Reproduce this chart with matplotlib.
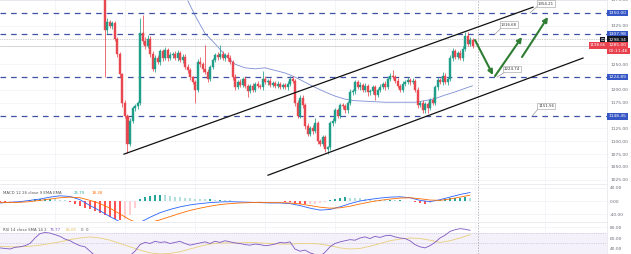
import numpy as np
import matplotlib
matplotlib.use("Agg")
import matplotlib.pyplot as plt

# ---------------- data ----------------
first_open = 1385
closes = [1316, 1333, 1325, 1330, 1300, 1270, 1230, 1175, 1150, 1095,
          1140, 1165, 1168, 1175, 1310, 1295, 1285, 1300, 1270, 1240,
          1262, 1255, 1275, 1262, 1278, 1262, 1268, 1270, 1262, 1272,
          1258, 1265, 1245, 1238, 1225, 1215, 1200, 1255, 1250, 1240,
          1235, 1222, 1245, 1258, 1268, 1265, 1270, 1262, 1268, 1262,
          1255, 1225, 1205, 1215, 1210, 1222, 1208, 1198, 1208, 1200,
          1212, 1208, 1205, 1222, 1215, 1218, 1210, 1214, 1208, 1212,
          1206, 1210, 1205, 1212, 1222, 1218, 1175, 1150, 1185, 1170,
          1130, 1115, 1125, 1120, 1135, 1100, 1095, 1108, 1085, 1088,
          1135, 1140, 1160, 1150, 1170, 1168, 1160, 1175, 1195, 1198,
          1215, 1205, 1210, 1200, 1208, 1195, 1197, 1205, 1190, 1200,
          1205, 1212, 1205, 1222, 1228, 1225, 1218, 1208, 1200, 1212,
          1215, 1220, 1215, 1218, 1200, 1170, 1175, 1160, 1172, 1165,
          1180, 1175, 1205, 1220, 1215, 1228, 1215, 1222, 1262, 1275,
          1265, 1272, 1262, 1280, 1305, 1290, 1298, 1285]
upper_wick = [5, 6, 4, 5, 4, 3, 4, 3, 5, 4, 6, 4, 5, 3, 30, 35, 8, 6, 5, 6,
              5, 6, 4, 5, 6, 4, 5, 4, 6, 5, 4, 5, 4, 5, 4, 3, 5, 5, 10, 4,
              48, 5, 4, 5, 4, 6, 18, 5, 4, 5, 6, 4, 5, 4, 6, 4, 5, 3, 4, 5,
              4, 5, 4, 14, 5, 4, 5, 3, 4, 5, 3, 4, 4, 5, 5, 6, 4, 5, 6, 5,
              4, 5, 4, 6, 10, 4, 5, 4, 5, 3, 4, 6, 5, 4, 5, 4, 5, 4, 6, 4,
              5, 4, 5, 4, 6, 4, 5, 4, 5, 4, 6, 4, 5, 4, 5, 10, 4, 5, 4, 5,
              4, 6, 4, 5, 4, 5, 4, 5, 4, 5, 4, 6, 4, 5, 4, 6, 5, 4, 5, 6,
              5, 4, 6, 5, 7, 8, 5, 4]
lower_wick = [91, 8, 5, 6, 4, 5, 4, 8, 5, 17, 5, 4, 6, 5, 4, 5, 6, 4, 5, 4,
              5, 4, 6, 5, 4, 6, 4, 5, 4, 6, 4, 5, 4, 6, 5, 4, 26, 4, 5, 6,
              5, 6, 4, 5, 4, 6, 5, 4, 5, 6, 4, 5, 6, 4, 5, 4, 5, 12, 4, 5,
              4, 5, 4, 5, 4, 5, 4, 5, 4, 5, 4, 5, 4, 5, 4, 5, 6, 5, 4, 5,
              6, 5, 4, 5, 4, 6, 5, 4, 5, 10, 4, 5, 4, 5, 4, 6, 5, 4, 5, 4,
              5, 4, 5, 4, 5, 6, 5, 4, 10, 4, 5, 4, 5, 4, 5, 4, 5, 4, 5, 4,
              5, 4, 5, 4, 5, 6, 4, 5, 4, 10, 4, 5, 4, 5, 4, 5, 4, 5, 4, 5,
              4, 5, 4, 5, 4, 5, 4, 4]

ma_idx = [30, 33, 36, 40, 44, 48, 52, 56, 60, 64, 68, 72, 76, 80, 84, 88,
          92, 96, 100, 104, 108, 112, 116, 120, 124, 128, 132, 136, 140, 144, 147]
ma_val = [1385, 1375, 1345, 1310, 1290, 1268, 1250, 1243, 1241, 1243, 1238,
          1233, 1225, 1215, 1205, 1196, 1188, 1182, 1179, 1178, 1177, 1176,
          1176, 1176, 1176, 1179, 1183, 1190, 1196, 1203, 1208]

hlevels = [1350.00, 1307.98, 1224.89, 1148.45]
hlevel_labels = ["1350.00", "1307.98", "1224.89", "1148.45"]

upper_chan_x = [7.6, 171.2]
upper_chan_y = [1075, 1361]
lower_chan_x = [65.2, 191.2]
lower_chan_y = [1034, 1262]

arrows = [((148.0, 1297), (155.2, 1229)),
          ((156.0, 1227), (166.8, 1303)),
          ((166.8, 1264), (177.2, 1342))]

callout_text = ["1354.21", "1316.68", "1224.74", "1151.56"]
callout_box = [(176.4, 1367.9), (161.6, 1327.0), (162.8, 1240.5), (176.4, 1168.5)]
callout_from = [(172.8, 1362.0), (158.8, 1322.0), (160.0, 1234.7), (173.2, 1162.7)]
callout_to = [(170.0, 1350.0), (156.0, 1308.6), (156.8, 1225.0), (170.8, 1149.0)]

# indicators sampled every 4 candles (MACD lines) / 2 candles (hist, RSI)
macd_line = [-6, -4, -2, 2, 6, 12, 16, 14, 4, -14, -30, -48, -64, -76, -66, -50,
             -36, -26, -18, -12, -8, -5, -3, -2, -3, -4, -5, -6, -6, -8, -14, -22,
             -28, -26, -18, -8, 0, 5, 9, 12, 13, 10, 2, -2, 4, 12, 20, 26]
signal_line = [-4, -5, -4, -2, 2, 6, 10, 12, 10, 2, -8, -22, -40, -58, -70, -66,
               -58, -48, -38, -29, -22, -16, -11, -8, -6, -5, -4, -5, -5, -6, -9, -14,
               -19, -22, -21, -16, -9, -3, 2, 6, 9, 10, 7, 3, 2, 6, 12, 18]
macd_hist = [-4, -4, -3, -2, -1, 1, 3, 5, 6, 7, 7, 6, 4, 2, -3, -8, -14, -20,
             -26, -32, -38, -44, -50, -54, -57, -55, -42, -20, 6, 12, 16, 18, 19,
             18, 16, 13, 11, 9, 8, 7, 6, 5, 5, 4, 4, 3, 2, 1, 1, 0.5, -0.5, 0.5,
             -0.5, -1, -1, -1, -1, -2, -4, -7, -9, -10, -9, -8, -6, -3, 2, 7, 10,
             11, 10, 9, 8, 6, 5, 4, 4, 3, 3, 2, 2, 1, -1, -4, -7, -8, -5, -1, 4,
             7, 9, 10, 10, 11, 9]
rsi = [42, 41, 40, 43, 44, 46, 50, 60, 68, 70, 69, 66, 63, 58, 55, 50, 46, 44,
       36, 28, 22, 24, 20, 18, 22, 19, 28, 36, 48, 52, 50, 54, 52, 53, 50, 52,
       54, 50, 47, 49, 51, 53, 50, 54, 52, 55, 53, 51, 50, 48, 47, 49, 48, 46,
       47, 49, 52, 51, 53, 40, 36, 38, 33, 30, 27, 34, 44, 50, 53, 55, 57, 56,
       60, 62, 59, 63, 61, 64, 65, 62, 60, 59, 55, 48, 44, 42, 46, 52, 60, 65,
       72, 75, 77, 76, 74]
rsi_ma = [45, 44, 44, 45, 47, 50, 53, 57, 60, 62, 60, 56, 50, 44, 38, 33, 31,
          32, 35, 40, 45, 49, 51, 51, 51, 52, 51, 50, 49, 49, 50, 50, 49, 46,
          42, 40, 41, 45, 50, 55, 58, 60, 59, 56, 52, 55, 60, 66]

price_ticks = [1375, 1325, 1250, 1200, 1175, 1125, 1100, 1075, 1050, 1025]
macd_ticks = [40, 0, -40]
rsi_ticks = [80, 60, 40]

# ---------------- figure ----------------
W, H = 631, 254
fig = plt.figure(figsize=(W / 100, H / 100), dpi=100)
fig.patch.set_facecolor("white")
pr = 607 / W
ax = fig.add_axes([0, 71 / H, pr, 183 / H])
axm = fig.add_axes([0, 33 / H, pr, 37 / H], sharex=ax)
axr = fig.add_axes([0, 0, pr, 32 / H], sharex=ax)

XMIN, XMAX = -42, 200.8
GREEN, RED = "#1f9e8a", "#e8474f"
TICKC = "#6a6d78"
FS = 3.2

for a in (ax, axm, axr):
    a.set_facecolor("white")
    for s in a.spines.values():
        s.set_visible(False)
    a.spines["top"].set_visible(True)
    a.spines["top"].set_color("#e3e5ea")
    a.spines["top"].set_linewidth(0.5)
    a.spines["right"].set_visible(True)
    a.spines["right"].set_color("#e3e5ea")
    a.spines["right"].set_linewidth(0.5)
    a.yaxis.tick_right()
    a.tick_params(axis="y", length=0, labelsize=FS, labelcolor=TICKC, pad=2.2)
    a.tick_params(axis="x", length=0, labelbottom=False)
    a.set_xticks(np.arange(-20, 200, 28))
    a.grid(True, color="#f0f2f6", lw=0.5)
    a.set_axisbelow(True)
    a.axvline(149.2, color="#9a9a9a", lw=0.5, ls=(0, (2, 2)))
ax.set_xlim(XMIN, XMAX)

# ---- candles ----
c = np.array(closes, dtype=float)
o = np.concatenate([[first_open], c[:-1]])
hi = np.maximum(o, c) + np.array(upper_wick)
lo = np.minimum(o, c) - np.array(lower_wick)
idx = np.arange(len(c))
cols = [GREEN if cc >= oo else RED for oo, cc in zip(o, c)]
ax.vlines(idx, lo, hi, colors=cols, lw=0.55, zorder=3)
ax.bar(idx, np.maximum(np.abs(c - o), 1.2), bottom=np.minimum(o, c), width=0.8,
       color=cols, edgecolor=cols, lw=0.3, zorder=4)

ax.set_ylim(1018.8, 1374.7)
ax.set_yticks(price_ticks)
ax.set_yticklabels([f"{t:.2f}" for t in price_ticks])

# moving average
ax.plot(ma_idx, ma_val, color="#7d8fd6", lw=0.6, zorder=2)

# horizontal levels
for lv in hlevels:
    ax.axhline(lv, color="#3f51a5", lw=0.9, ls=(0, (4.5, 4.0)), zorder=2)
ax.axhline(1298.34, color="#a0a0a0", lw=0.5, ls=(0, (1, 1.5)), zorder=1)
ax.axhline(1285.00, color="#c4c4c4", lw=0.5, zorder=1)

# channel
ax.plot(upper_chan_x, upper_chan_y, color="#111111", lw=0.9, zorder=5)
ax.plot(lower_chan_x, lower_chan_y, color="#111111", lw=0.9, zorder=5)

# arrows
for (x0, y0), (x1, y1) in arrows:
    ax.annotate("", xy=(x1, y1), xytext=(x0, y0),
                arrowprops=dict(arrowstyle="-|>", color="#2e7d32", lw=1.5,
                                mutation_scale=7, shrinkA=0, shrinkB=0), zorder=6)

# callouts
for t, (bx, by), (fx, fy), (tx, ty) in zip(callout_text, callout_box, callout_from, callout_to):
    ax.plot([fx, tx], [fy, ty], color="#9a9a9a", lw=0.5, zorder=6)
    ax.text(bx, by, t, fontsize=2.8, color="#333333", ha="center", va="center", zorder=7,
            bbox=dict(boxstyle="square,pad=0.35", fc="white", ec="#9a9a9a", lw=0.4))

# axis price boxes
ytr = ax.get_yaxis_transform()
def axis_box(a, y, txt, fc, dx=1.003, tc="white"):
    a.text(dx, y, txt, transform=a.get_yaxis_transform(), fontsize=FS, color=tc,
           ha="left", va="center", clip_on=False, zorder=10,
           bbox=dict(boxstyle="square,pad=0.3", fc=fc, ec="none"))

for lv, lab in zip(hlevels, hlevel_labels):
    axis_box(ax, lv, lab, "#3556c4")
axis_box(ax, 1297.6, "1298.34", "#131722")
axis_box(ax, 1286.5, "1285.00", "#e8404c")
axis_box(ax, 1276.0, "00:11:46", "#e8404c")
ax.text(0.998, 1286.5, "1198.66", transform=ytr, fontsize=2.8, color="white",
        ha="right", va="center", zorder=10,
        bbox=dict(boxstyle="square,pad=0.3", fc="#e8404c", ec="none"))
ax.text(0.9925, 1297.6, "⊡", transform=ytr, fontsize=3.2, color="white",
        ha="center", va="center", zorder=10,
        bbox=dict(boxstyle="square,pad=0.15", fc="#131722", ec="none"))

# ---- MACD ----
m_x = np.arange(len(macd_line)) * 4 - 42
h_x = np.arange(len(macd_hist)) * 2 - 42
hv = np.array(macd_hist, dtype=float)
hcols = []
for k, v in enumerate(hv):
    prev = hv[k - 1] if k > 0 else v
    if v >= 0:
        hcols.append("#26a69a" if v >= prev else "#b2dfdb")
    else:
        hcols.append("#ff5252" if v <= prev else "#ffcdd2")
axm.bar(h_x, hv, width=1.1, color=hcols, zorder=2)
axm.plot(m_x, macd_line, color="#2962ff", lw=0.6, zorder=3)
axm.plot(m_x, signal_line, color="#ff6d00", lw=0.6, zorder=3)
axm.set_ylim(-61.5, 52.3)
axm.set_yticks(macd_ticks)
axm.set_yticklabels([f"{t:.2f}" for t in macd_ticks])
axm.text(0.005, 0.76, "MACD 12 26 close 9 EMA EMA", transform=axm.transAxes,
         fontsize=2.8, color="#555555", va="center")
axm.text(0.122, 0.76, "25.79", transform=axm.transAxes, fontsize=2.8,
         color="#26a69a", va="center")
axm.text(0.150, 0.76, "18.38", transform=axm.transAxes, fontsize=2.8,
         color="#ff6d00", va="center")

# ---- RSI ----
r_x = np.arange(len(rsi)) * 2 - 42
rm_x = np.arange(len(rsi_ma)) * 4 - 42
axr.axhspan(30, 70, color="#7e57c2", alpha=0.08, lw=0, zorder=0)
for lvl in (70, 50, 30):
    axr.axhline(lvl, color="#b9b3cf", lw=0.4, ls=(0, (2, 2)), zorder=1)
axr.plot(rm_x, rsi_ma, color="#e9cf7a", lw=0.6, zorder=2)
axr.plot(r_x, rsi, color="#7e57c2", lw=0.6, zorder=3)
axr.set_ylim(30.9, 89.1)
axr.set_yticks(rsi_ticks)
axr.set_yticklabels([f"{t:.2f}" for t in rsi_ticks])
axr.text(0.005, 0.75, "RSI 14 close SMA 14 2", transform=axr.transAxes,
         fontsize=2.8, color="#555555", va="center")
axr.text(0.082, 0.75, "75.77", transform=axr.transAxes, fontsize=2.8,
         color="#7e57c2", va="center")
axr.text(0.108, 0.75, "66.05", transform=axr.transAxes, fontsize=2.8,
         color="#e0b84a", va="center")
axr.text(0.134, 0.75, "0  0", transform=axr.transAxes, fontsize=2.8,
         color="#555555", va="center")

fig.savefig("out.png", dpi=100, facecolor="white")
